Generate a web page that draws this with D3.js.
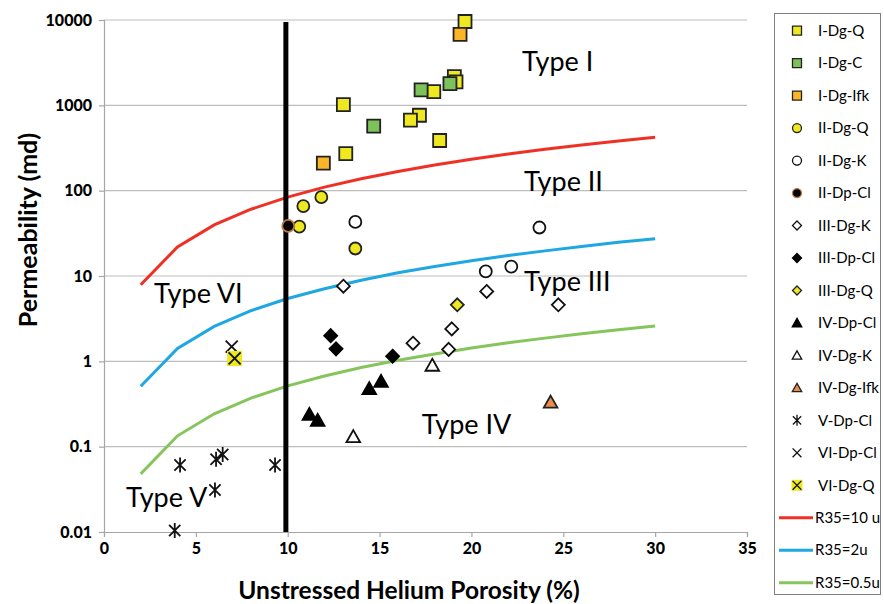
<!DOCTYPE html>
<html>
<head>
<meta charset="utf-8">
<script src="https://cdn.jsdelivr.net/npm/d3@7"></script>
<style>
  body { margin: 0; background: #fff; }
  svg { display: block; font-family: Lato, "Open Sans", sans-serif; }
</style>
</head>
<body>
<svg id="chart" width="884" height="604"></svg>
<script>
// Sample groups: [unstressed helium porosity (%), permeability (md)]
const iDgQ    = [[19.65, 9600], [19.07, 2175], [19.16, 1880], [17.95, 1450], [13.03, 1020],
                 [17.17, 765], [16.68, 670], [18.27, 387], [13.16, 272]];
const iDgC    = [[18.83, 1800], [17.26, 1515], [14.68, 570]];
const iDgIfk  = [[19.38, 6800], [11.94, 210]];
const iiDgQ   = [[10.85, 66], [11.83, 84], [10.63, 38], [13.68, 21]];
const iiDgK   = [[13.68, 43], [23.7, 37], [20.78, 11.3], [22.17, 12.9]];
const iiDpCl  = [[10.03, 38.6]];
const iiiDgK  = [[13.03, 7.6], [20.83, 6.6], [24.73, 4.6], [18.93, 2.4], [16.82, 1.63], [18.76, 1.38]];
const iiiDpCl = [[12.34, 2.0], [12.63, 1.4], [15.71, 1.15]];
const iiiDgQ  = [[19.23, 4.6]];
const ivDpCl  = [[11.18, 0.239], [11.63, 0.204], [14.44, 0.479], [15.08, 0.583]];
const ivDgK   = [[13.57, 0.131], [17.87, 0.9]];
const ivDgIfk = [[24.31, 0.333]];
const vDpCl   = [[4.14, 0.061], [6.10, 0.071], [6.46, 0.081], [9.31, 0.061], [6.04, 0.031], [3.85, 0.0104]];
const viDpCl  = [[6.95, 1.49]];
const viDgQ   = [[7.11, 1.08]];

// R35 pore-throat iso-lines
const r35Porosity = [2, 4, 6, 8, 10, 12, 14, 16, 18, 20, 22, 24, 26, 28, 30];
const r35_10u  = [7.9, 21.9, 39.7, 60.6, 84, 110, 138, 168, 200, 233, 269, 305, 343, 383, 423];
const r35_2u   = [0.51, 1.42, 2.57, 3.92, 5.45, 7.1, 8.93, 10.9, 12.9, 15.1, 17.4, 19.7, 22.2, 24.8, 27.4];
const r35_05u  = [0.048, 0.134, 0.243, 0.371, 0.516, 0.672, 0.846, 1.03, 1.22, 1.43, 1.65, 1.87, 2.10, 2.35, 2.59];

// 10 % porosity cut-off
const cutoffPorosity = 9.9;
const cutoffPerm = [0.01, 9500];

// Axis ticks
const xTicks = [0, 5, 10, 15, 20, 25, 30, 35];
const yTicks = [0.01, 0.1, 1, 10, 100, 1000, 10000];
const yTickLabels = ["0.01", "0.1", "1", "10", "100", "1000", "10000"];

// Rock-type annotations: [label, porosity, permeability]
const typeLabels = [["Type I", 22.75, 2500], ["Type II", 22.86, 99], ["Type III", 22.86, 6.7],
                    ["Type IV", 17.29, 0.139], ["Type V", 1.2, 0.0194], ["Type VI", 2.72, 4.88]];

const svg = d3.select("#chart");
const x = d3.scaleLinear().domain([0, 35]).range([104, 747]);
const y = d3.scaleLog().domain([0.01, 10000]).range([532, 20]);

// horizontal gridlines
svg.append("g").selectAll("line").data(yTicks.slice(1)).join("line")
  .attr("x1", x(0)).attr("x2", x(35))
  .attr("y1", d => y(d)).attr("y2", d => y(d))
  .attr("stroke", "#bdbdbd").attr("stroke-width", 1.2);

// axes
const xAxis = svg.append("g").attr("transform", `translate(0,${y(0.01)})`)
  .call(d3.axisBottom(x).tickValues(xTicks).tickSize(5).tickPadding(6).tickFormat(d3.format("d")));
const yAxis = svg.append("g").attr("transform", `translate(${x(0)},0)`)
  .call(d3.axisLeft(y).tickValues(yTicks).tickSize(5).tickPadding(7)
        .tickFormat((d, i) => yTickLabels[i]));
[xAxis, yAxis].forEach(g => {
  g.select(".domain").attr("stroke", "#a6a6a6").attr("stroke-width", 1.2);
  g.selectAll(".tick line").attr("stroke", "#a6a6a6").attr("stroke-width", 1.2);
  g.selectAll(".tick text").attr("fill", "#000").style("font-family", "Lato")
    .style("font-weight", "900").style("font-size", "16px");
});

// axis titles
svg.append("text").attr("x", 409).attr("y", 599).attr("text-anchor", "middle")
  .style("font-weight", "bold").style("font-size", "24.5px").text("Unstressed Helium Porosity (%)");
svg.append("text").attr("transform", "translate(37,230) rotate(-90)").attr("text-anchor", "middle")
  .style("font-weight", "bold").style("font-size", "25px").text("Permeability (md)");

// R35 lines
const curves = [[r35_10u, "#ee3124"], [r35_2u, "#1ea7e1"], [r35_05u, "#86c55b"]];
const line = d3.line().x(d => x(d[0])).y(d => y(d[1]));
curves.forEach(([vals, col]) => {
  svg.append("path").datum(r35Porosity.map((p, i) => [p, vals[i]]))
    .attr("d", line).attr("fill", "none").attr("stroke", col).attr("stroke-width", 3);
});

// porosity cut-off
svg.append("line").attr("x1", x(cutoffPorosity)).attr("x2", x(cutoffPorosity))
  .attr("y1", y(cutoffPerm[0])).attr("y2", y(cutoffPerm[1]))
  .attr("stroke", "#000").attr("stroke-width", 5);

// marker shapes
function shapePath(kind, s) {
  const h = s / 2;
  switch (kind) {
    case "square": return `M${-h},${-h}H${h}V${h}H${-h}Z`;
    case "circle": return `M${h},0A${h},${h} 0 1,1 ${-h},0A${h},${h} 0 1,1 ${h},0Z`;
    case "diamond": return `M0,${-h}L${h},0L0,${h}L${-h},0Z`;
    case "triangle": return `M0,${-h}L${h * 1.05},${h * 0.85}L${-h * 1.05},${h * 0.85}Z`;
    case "star": return `M${-h * 0.75},${-h * 0.75}L${h * 0.75},${h * 0.75}M${h * 0.75},${-h * 0.75}L${-h * 0.75},${h * 0.75}M0,${-h}V${h}`;
    case "cross": return `M${-h * 0.8},${-h * 0.8}L${h * 0.8},${h * 0.8}M${h * 0.8},${-h * 0.8}L${-h * 0.8},${h * 0.8}`;
  }
}

const series = [
  { name: "I-Dg-Q",    data: iDgQ,    kind: "square",   fill: "#ede81f", stroke: "#222", size: 13 },
  { name: "I-Dg-C",    data: iDgC,    kind: "square",   fill: "#7cc15a", stroke: "#222", size: 13 },
  { name: "I-Dg-Ifk",  data: iDgIfk,  kind: "square",   fill: "#fbb526", stroke: "#222", size: 13 },
  { name: "II-Dg-Q",   data: iiDgQ,   kind: "circle",   fill: "#ede81f", stroke: "#222", size: 12 },
  { name: "II-Dg-K",   data: iiDgK,   kind: "circle",   fill: "#fff",    stroke: "#111", size: 12 },
  { name: "II-Dp-Cl",  data: iiDpCl,  kind: "circle",   fill: "#000",    stroke: "#c07a45", size: 12 },
  { name: "III-Dg-K",  data: iiiDgK,  kind: "diamond",  fill: "#fff",    stroke: "#111", size: 13 },
  { name: "III-Dp-Cl", data: iiiDpCl, kind: "diamond",  fill: "#000",    stroke: "#000", size: 13 },
  { name: "III-Dg-Q",  data: iiiDgQ,  kind: "diamond",  fill: "#ede81f", stroke: "#222", size: 13 },
  { name: "IV-Dp-Cl",  data: ivDpCl,  kind: "triangle", fill: "#000",    stroke: "#000", size: 13 },
  { name: "IV-Dg-K",   data: ivDgK,   kind: "triangle", fill: "#fff",    stroke: "#111", size: 13 },
  { name: "IV-Dg-Ifk", data: ivDgIfk, kind: "triangle", fill: "#ec8b4a", stroke: "#222", size: 13 },
  { name: "V-Dp-Cl",   data: vDpCl,   kind: "star",     fill: "none",    stroke: "#111", size: 15 },
  { name: "VI-Dp-Cl",  data: viDpCl,  kind: "cross",    fill: "none",    stroke: "#111", size: 15 },
  { name: "VI-Dg-Q",   data: viDgQ,   kind: "cross",    fill: "none",    stroke: "#111", size: 15, box: "#ede81f" }
];

const marks = svg.append("g");
series.forEach(s => {
  const g = marks.append("g");
  const pts = g.selectAll("g").data(s.data).join("g")
    .attr("transform", d => `translate(${x(d[0])},${y(d[1])})`);
  if (s.box) {
    pts.append("rect").attr("x", -s.size / 2).attr("y", -s.size / 2)
      .attr("width", s.size).attr("height", s.size).attr("fill", s.box);
  }
  pts.append("path").attr("d", shapePath(s.kind, s.size))
    .attr("fill", s.fill).attr("stroke", s.stroke).attr("stroke-width", 1.8);
});

// type annotations
svg.append("g").selectAll("text").data(typeLabels).join("text")
  .attr("x", d => x(d[1])).attr("y", d => y(d[2]))
  .style("font-size", "27px").attr("fill", "#000").text(d => d[0]);

// legend
const legend = svg.append("g");
legend.append("rect").attr("x", 774.5).attr("y", 13.5).attr("width", 106).attr("height", 581)
  .attr("fill", "#fff").attr("stroke", "#7f7f7f").attr("stroke-width", 1);
const rowY = i => 30.7 + i * 32.47;
series.forEach((s, i) => {
  const g = legend.append("g").attr("transform", `translate(797,${rowY(i)})`);
  const sz = s.kind === "star" || s.kind === "cross" ? 11 : 9;
  if (s.box) {
    g.append("rect").attr("x", -sz / 2).attr("y", -sz / 2)
      .attr("width", sz).attr("height", sz).attr("fill", s.box);
  }
  g.append("path").attr("d", shapePath(s.kind, sz))
    .attr("fill", s.fill).attr("stroke", s.stroke).attr("stroke-width", 1.3);
  legend.append("text").attr("x", 818).attr("y", rowY(i)).attr("dy", "0.35em")
    .style("font-size", "15px").text(s.name);
});
const lineNames = ["R35=10 u", "R35=2u", "R35=0.5u"];
curves.forEach(([vals, col], j) => {
  const yy = rowY(series.length + j);
  legend.append("line").attr("x1", 779).attr("x2", 813).attr("y1", yy).attr("y2", yy)
    .attr("stroke", col).attr("stroke-width", 3);
  legend.append("text").attr("x", 815).attr("y", yy).attr("dy", "0.35em")
    .style("font-size", "15px").text(lineNames[j]);
});
</script>
</body>
</html>
